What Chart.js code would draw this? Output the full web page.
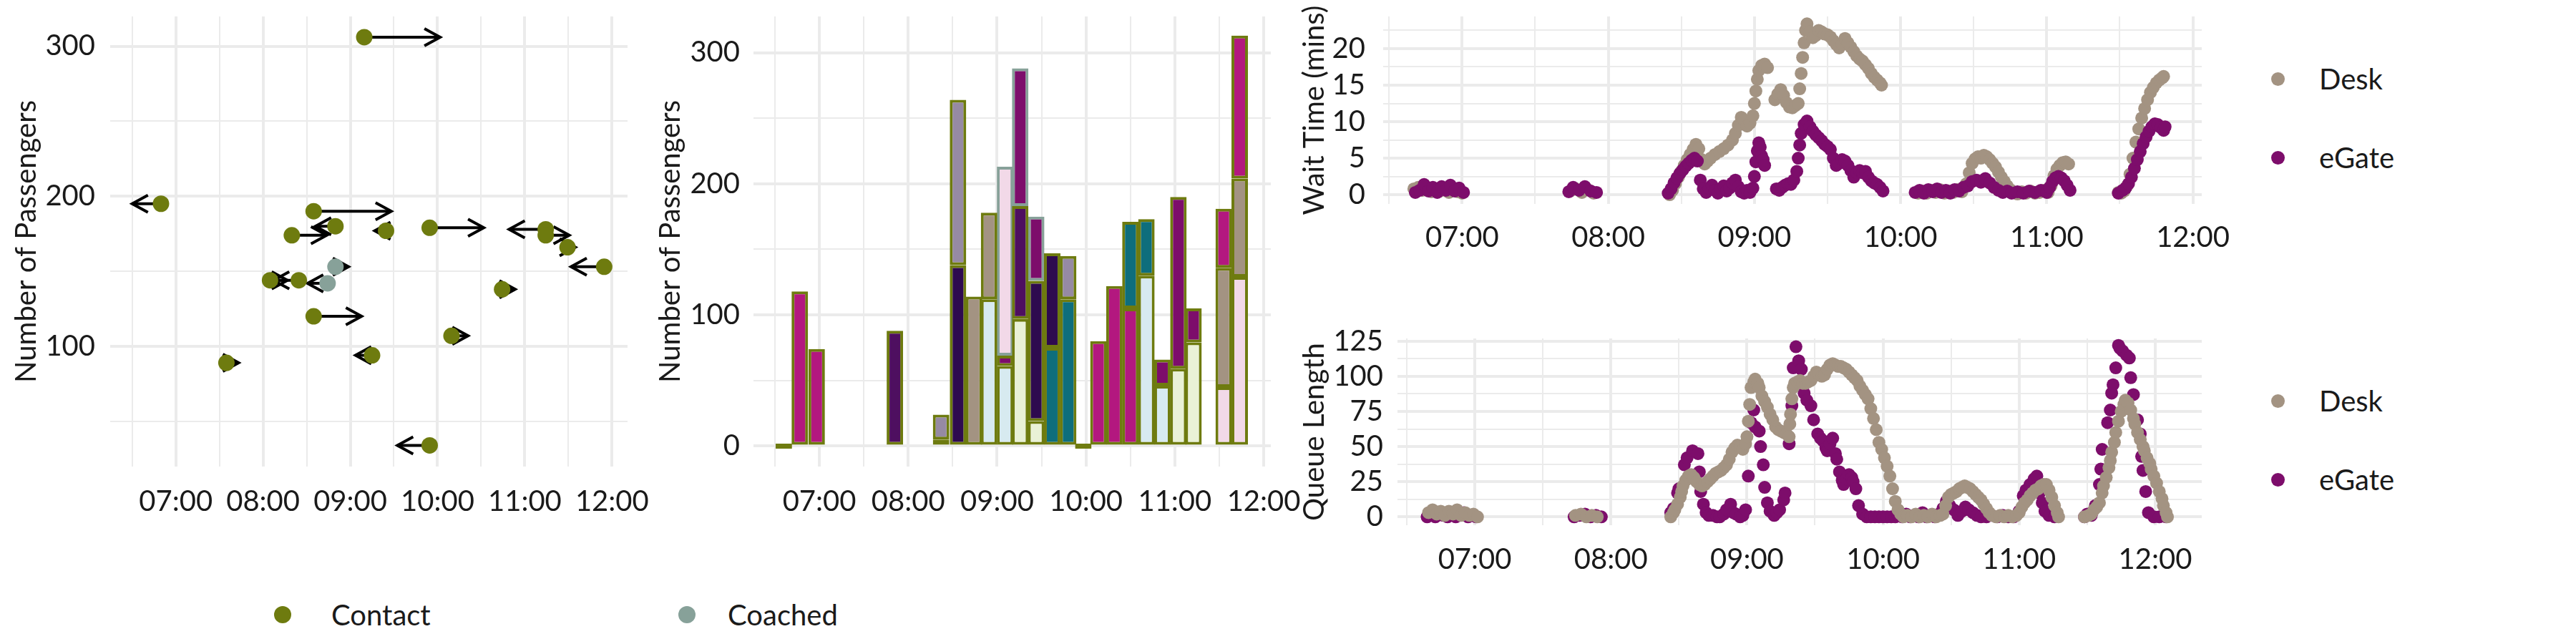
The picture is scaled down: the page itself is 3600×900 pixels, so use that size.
<!DOCTYPE html>
<html>
<head>
<meta charset="utf-8">
<script src="https://cdn.jsdelivr.net/npm/chart.js@4"></script>
<style>
  body { margin: 0; background: #fff; }
  #wrap { position: relative; width: 3600px; height: 900px; overflow: hidden; background: #fff; font-family: Lato, sans-serif; color: #1a1a1a; }
  #wrap canvas { position: absolute; }
  .dot { position: absolute; border-radius: 50%; }
  .lab { position: absolute; font-size: 40px; line-height: 40px; transform: translateY(-50%); white-space: nowrap; }
</style>
</head>
<body>
<div id="wrap">
  <canvas id="arrivalChart" width="937" height="760" style="left:0;top:0"></canvas>
  <canvas id="stackChart" width="956" height="760" style="left:880px;top:0"></canvas>
  <canvas id="waitChart" width="1337" height="380" style="left:1800px;top:0"></canvas>
  <canvas id="queueChart" width="1337" height="400" style="left:1800px;top:430px"></canvas>
</div>
<script>
// ---- data ----
const timeTicks = ['07:00', '08:00', '09:00', '10:00', '11:00', '12:00'];

// flights: scheduled time (h), passengers, and where the arrow ends (actual time)
const contactTime = [9.16, 6.83, 8.58, 8.83, 9.41, 9.91, 11.24, 11.24, 8.33, 11.49, 11.91, 8.08, 8.41, 10.74, 8.58, 10.16, 9.25, 7.58, 9.91];
const contactPax  = [306, 195, 190, 180, 177, 179, 178, 174, 174, 166, 153, 144, 144, 138, 120, 107, 94, 89, 34];
const contactTo   = [10.03, 6.50, 9.47, 8.60, 9.28, 10.53, 10.82, 11.51, 8.73, 11.58, 11.53, 8.28, 8.12, 10.89, 9.13, 10.35, 9.06, 7.72, 9.54];
const coachedTime = [8.83, 8.74];
const coachedPax  = [153, 142];
const coachedTo   = [8.98, 8.51];

// stacked arrivals per time slot (bottom / middle / top flight)
const barTime   = [6.60, 6.78, 6.97, 7.85, 8.37, 8.56, 8.74, 8.91, 9.09, 9.26, 9.44, 9.62, 9.80, 9.97, 10.14, 10.32, 10.50, 10.68, 10.86, 11.04, 11.21, 11.55, 11.73];
const barBottom = [0, 118, 74, 88, 5, 138, 114, 112, 61, 97, 19, 75, 112, 0, 80, 122, 105, 130, 46, 59, 79, 45, 129];
const barMiddle = [null, null, null, null, 19, 126, null, 66, 8, 86, 107, 72, 33, null, null, null, 66, 43, 20, 131, 26, 91, 75];
const barTop    = [null, null, null, null, null, null, null, null, 144, 105, 49, null, null, null, null, null, null, null, null, null, null, 45, 109];
const barTopType = [null, null, null, null, null, null, null, null, 'Coached', 'Coached', 'Coached', null, null, null, null, null, null, null, null, null, null, 'Contact', 'Contact'];

const queueGroups = ['Desk', 'eGate'];
const arrivalGroups = ['Contact', 'Coached'];

// wait time in minutes [time (h), mins]
const waitDesk = [
  [6.67,0.8],[6.70,1.0],[6.73,0.6],[6.76,0.9],[6.79,0.4],[6.82,0.8],[6.85,0.5],[6.88,0.9],[6.91,0.3],[6.94,0.7],[6.97,0.4],[7.00,0.2],
  [7.74,0.5],[7.78,0.8],[7.82,0.3],[7.86,0.7],[7.90,0.2],
  [8.42,0.0],[8.44,0.6],[8.46,1.5],[8.48,2.4],[8.50,3.2],[8.52,4.0],[8.54,4.8],[8.56,5.5],[8.58,6.2],[8.60,6.9],[8.62,6.3],[8.64,4.8],[8.66,4.2],[8.68,4.6],[8.70,5.0],[8.73,5.5],[8.76,5.9],[8.79,6.3],[8.82,6.8],[8.85,7.5],[8.87,8.4],[8.89,9.5],[8.91,10.6],[8.93,10.2],[8.95,9.4],[8.97,9.8],[8.99,10.8],[9.00,12.5],[9.01,14.2],[9.02,15.8],[9.03,17.0],[9.05,17.7],[9.07,17.9],[9.09,17.4],
  [9.14,13.0],[9.16,13.8],[9.18,14.4],[9.20,13.6],[9.22,12.6],[9.24,12.0],[9.26,11.9],[9.28,12.2],[9.30,12.5],[9.31,14.5],[9.32,16.6],[9.33,18.8],[9.34,20.8],[9.35,22.5],[9.36,23.4],[9.38,22.3],[9.40,21.5],[9.42,21.8],[9.44,22.5],[9.46,22.3],[9.48,22.0],[9.50,21.9],[9.52,21.6],[9.54,21.1],[9.56,20.6],[9.58,20.1],[9.60,20.6],[9.62,21.4],[9.64,20.8],[9.66,20.2],[9.68,19.6],[9.70,19.0],[9.72,18.6],[9.74,18.3],[9.76,17.8],[9.78,17.3],[9.80,16.6],[9.82,16.1],[9.84,15.7],[9.86,15.3],[9.87,15.0],
  [10.12,0.2],[10.15,0.5],[10.18,0.2],[10.21,0.6],[10.24,0.3],[10.27,0.7],[10.30,0.2],[10.33,0.5],[10.36,0.3],[10.39,0.7],[10.42,0.4],[10.45,1.5],[10.47,3.0],[10.49,4.3],[10.51,4.9],[10.53,5.2],[10.55,5.0],[10.57,5.4],[10.59,5.2],[10.61,4.8],[10.63,4.3],[10.65,3.8],[10.67,3.1],[10.69,2.4],[10.71,1.8],[10.73,1.2],[10.75,0.7],[10.77,0.3],[10.80,0.1],[10.83,0.4],[10.86,0.2],[10.89,0.5],[10.92,0.2],[10.95,0.3],[10.98,0.6],[11.01,0.3],[11.03,1.2],[11.05,2.6],[11.07,3.5],[11.09,4.0],[11.11,4.4],[11.13,4.5],[11.15,4.2],
  [11.49,0.3],[11.51,0.2],[11.53,0.5],[11.55,1.2],[11.57,2.8],[11.59,5.0],[11.61,7.2],[11.63,9.0],[11.65,10.5],[11.67,11.8],[11.69,13.0],[11.71,14.0],[11.73,14.7],[11.75,15.3],[11.77,15.7],[11.79,16.0],[11.80,16.2]
];
const waitGate = [
  [6.68,0.3],[6.71,0.6],[6.74,1.4],[6.77,0.5],[6.80,1.0],[6.83,0.3],[6.86,1.1],[6.89,0.6],[6.92,1.3],[6.95,0.5],[6.98,0.9],[7.01,0.3],
  [7.73,0.4],[7.76,1.0],[7.80,0.6],[7.84,1.1],[7.88,0.5],[7.92,0.3],
  [8.41,0.2],[8.43,0.8],[8.45,1.6],[8.47,2.3],[8.49,2.9],[8.51,3.4],[8.53,3.9],[8.55,4.3],[8.57,4.7],[8.59,5.0],[8.61,4.6],[8.63,2.0],[8.65,0.8],[8.67,0.3],[8.69,0.9],[8.71,1.3],[8.73,0.6],[8.75,0.2],[8.77,0.8],[8.79,1.2],[8.81,0.5],[8.83,0.9],[8.85,1.6],[8.87,2.0],[8.89,1.1],[8.91,0.4],[8.93,0.2],[8.95,0.6],[8.97,0.3],[8.99,0.9],[9.00,2.5],[9.01,4.5],[9.02,6.0],[9.03,7.1],[9.04,6.5],[9.05,5.3],[9.06,4.8],[9.07,4.0],
  [9.15,0.8],[9.17,0.6],[9.19,1.0],[9.21,1.3],[9.23,1.5],[9.25,1.4],[9.27,2.0],[9.29,3.2],[9.30,5.0],[9.31,6.8],[9.32,8.4],[9.34,9.6],[9.36,10.1],[9.38,9.3],[9.40,8.7],[9.42,8.2],[9.44,7.8],[9.46,7.4],[9.48,6.9],[9.50,6.6],[9.52,6.2],[9.54,5.0],[9.56,4.0],[9.58,4.3],[9.60,4.8],[9.62,4.6],[9.64,4.0],[9.66,3.3],[9.68,2.4],[9.70,3.0],[9.72,3.3],[9.74,3.0],[9.76,3.2],[9.78,2.4],[9.80,1.9],[9.82,1.6],[9.84,1.4],[9.86,1.0],[9.88,0.5],
  [10.10,0.3],[10.13,0.6],[10.16,0.2],[10.19,0.7],[10.22,0.4],[10.25,0.8],[10.28,0.3],[10.31,0.6],[10.34,0.2],[10.37,0.7],[10.40,0.5],[10.43,1.0],[10.46,1.2],[10.49,1.8],[10.52,2.0],[10.55,1.7],[10.58,2.2],[10.61,1.6],[10.64,1.0],[10.67,0.6],[10.70,0.3],[10.73,0.5],[10.76,0.2],[10.80,0.4],[10.84,0.2],[10.88,0.5],[10.92,0.3],[10.96,0.6],[11.00,0.3],[11.02,1.0],[11.04,1.8],[11.06,2.3],[11.08,2.5],[11.10,2.3],[11.12,1.9],[11.14,1.3],[11.16,0.6],
  [11.49,0.2],[11.52,0.6],[11.54,0.9],[11.56,1.5],[11.58,2.4],[11.60,3.6],[11.62,4.8],[11.64,5.9],[11.66,7.0],[11.68,7.9],[11.70,8.7],[11.72,9.3],[11.74,9.7],[11.76,9.6],[11.78,9.2],[11.80,8.8],[11.81,9.3]
];

// queue length [time (h), passengers]
const queueDesk = [
  [6.66,3],[6.69,5],[6.72,2],[6.75,4],[6.78,1],[6.81,4],[6.84,2],[6.87,5],[6.90,1],[6.93,3],[6.96,1],[6.99,2],[7.02,0],
  [7.74,1],[7.78,2],[7.82,0],[7.86,1],[7.90,0],
  [8.44,0],[8.46,3],[8.47,5],[8.49,9],[8.51,14],[8.52,18],[8.53,22],[8.55,26],[8.57,29],[8.59,30],[8.61,28],[8.63,25],[8.65,23],[8.67,22],[8.69,23],[8.71,25],[8.73,27],[8.75,29],[8.77,31],[8.79,32],[8.81,33],[8.83,35],[8.85,37],[8.87,41],[8.89,46],[8.91,49],[8.93,51],[8.95,50],[8.97,48],[8.99,52],[9.00,57],[9.01,68],[9.02,80],[9.03,92],[9.05,96],[9.06,98],[9.08,95],[9.09,92],[9.11,86],[9.13,82],[9.15,78],[9.17,73],[9.19,69],[9.21,64],[9.23,62],[9.25,61],[9.27,60],[9.29,59],[9.31,57],[9.315,66],[9.32,73],[9.33,84],[9.34,92],[9.35,95],[9.37,96],[9.39,97],[9.41,95],[9.43,95],[9.45,96],[9.47,97],[9.49,100],[9.51,103],[9.53,102],[9.55,100],[9.57,101],[9.59,105],[9.61,108],[9.63,109],[9.65,108],[9.67,107],[9.69,107],[9.71,106],[9.73,105],[9.75,103],[9.77,101],[9.79,99],[9.81,97],[9.83,93],[9.85,90],[9.87,87],[9.89,84],[9.91,77],[9.93,70],[9.95,62],[9.97,53],[9.99,48],[10.01,42],[10.03,36],[10.05,29],[10.07,20],[10.09,11],[10.11,5],[10.13,2],[10.15,0],
  [10.18,1],[10.21,0],[10.24,2],[10.27,0],[10.30,1],[10.33,0],[10.36,2],[10.39,0],[10.42,1],[10.44,2],[10.46,8],[10.48,14],[10.50,16],[10.52,17],[10.54,18],[10.56,20],[10.58,21],[10.60,22],[10.62,21],[10.64,20],[10.66,18],[10.68,16],[10.70,14],[10.72,12],[10.74,9],[10.76,6],[10.78,3],[10.80,1],[10.83,0],[10.86,1],[10.89,0],[10.92,1],[10.95,0],[10.98,1],[11.00,3],[11.02,7],[11.04,10],[11.06,12],[11.08,15],[11.10,17],[11.12,19],[11.14,20],[11.16,22],[11.18,23],[11.20,23],[11.22,19],[11.24,14],[11.26,8],[11.28,3],[11.29,0],
  [11.48,0],[11.51,1],[11.53,2],[11.55,5],[11.57,7],[11.59,10],[11.61,17],[11.62,22],[11.64,28],[11.66,35],[11.67,40],[11.68,46],[11.70,53],[11.71,60],[11.73,68],[11.75,75],[11.77,80],[11.78,83],[11.80,81],[11.82,76],[11.84,70],[11.85,66],[11.87,60],[11.89,55],[11.91,50],[11.92,47],[11.94,42],[11.96,38],[11.97,34],[11.99,29],[12.01,24],[12.03,18],[12.05,13],[12.06,8],[12.08,3],[12.09,0]
];
const queueGate = [
  [6.65,0],[6.68,2],[6.71,0],[6.74,3],[6.77,1],[6.80,0],[6.83,2],[6.86,0],[6.89,1],[6.92,3],[6.95,0],[6.98,1],[7.01,0],
  [7.73,0],[7.77,1],[7.81,2],[7.85,0],[7.89,1],[7.93,0],
  [8.44,3],[8.46,6],[8.49,17],[8.50,20],[8.54,37],[8.56,42],[8.60,47],[8.64,45],[8.65,32],[8.66,18],[8.68,9],[8.70,3],[8.72,1],[8.75,1],[8.78,0],[8.80,0],[8.83,2],[8.85,5],[8.88,9],[8.90,3],[8.92,2],[8.95,0],[8.97,1],[8.99,5],[9.01,29],[9.03,67],[9.05,76],[9.06,64],[9.09,61],[9.10,50],[9.12,37],[9.13,21],[9.15,10],[9.17,4],[9.20,1],[9.22,3],[9.24,5],[9.27,12],[9.28,17],[9.31,52],[9.33,79],[9.34,106],[9.36,121],[9.38,111],[9.40,105],[9.42,88],[9.44,83],[9.47,79],[9.49,69],[9.52,59],[9.54,56],[9.56,54],[9.58,49],[9.59,47],[9.61,52],[9.63,56],[9.65,45],[9.66,41],[9.68,32],[9.70,26],[9.71,23],[9.73,27],[9.75,30],[9.77,28],[9.78,25],[9.80,20],[9.82,8],[9.85,2],[9.88,0],[9.91,0],[9.94,0],[9.97,0],[10.00,0],[10.03,0],[10.06,0],
  [10.09,0],[10.11,1],[10.14,0],[10.17,2],[10.20,0],[10.23,1],[10.26,0],[10.29,3],[10.32,0],[10.35,1],[10.38,0],[10.41,2],[10.44,6],[10.465,11],[10.49,8],[10.52,5],[10.55,1],[10.58,4],[10.605,7],[10.63,5],[10.66,3],[10.69,1],[10.72,0],[10.76,0],[10.80,1],[10.84,0],[10.88,1],[10.92,0],[10.96,0],[11.00,4],[11.03,15],[11.05,19],[11.08,23],[11.11,27],[11.13,29],[11.15,17],[11.17,10],[11.19,4],[11.22,1],[11.26,0],
  [11.48,0],[11.50,2],[11.53,1],[11.56,8],[11.59,23],[11.60,34],[11.61,48],[11.65,67],[11.67,76],[11.68,88],[11.69,94],[11.71,106],[11.73,122],[11.74,120],[11.76,118],[11.79,115],[11.81,113],[11.82,99],[11.84,87],[11.87,69],[11.89,59],[11.90,43],[11.91,33],[11.93,18],[11.95,3],[11.99,0],[12.03,0],[12.08,0]
];

// ---- styles ----
const contactColour = '#6e7b0f';
const coachedColour = '#87a199';
const deskColour = '#a39382';
const gateColour = '#7d0d6b';
const gridColour = '#ebebeb';
const segFill = {
  magenta: '#b3187f', plum: '#7d0d6b', violet: '#4e0f60', ink: '#2e0a4f', lavender: '#968aa3',
  taupe: '#a39382', sky: '#d7eaf0', mint: '#e9f1d6', blush: '#f2d9e8', teal: '#0e6e7c'
};
const bottomFill = ['magenta', 'magenta', 'magenta', 'violet', 'violet', 'ink', 'taupe', 'sky', 'sky', 'mint', 'mint', 'teal', 'teal', 'magenta', 'magenta', 'magenta', 'magenta', 'sky', 'sky', 'mint', 'mint', 'blush', 'blush'];
const middleFill = [null, null, null, null, 'lavender', 'lavender', null, 'taupe', 'plum', 'violet', 'ink', 'ink', 'lavender', null, null, null, 'teal', 'teal', 'plum', 'plum', 'plum', 'taupe', 'taupe'];
const topFill    = [null, null, null, null, null, null, null, null, 'blush', 'plum', 'plum', null, null, null, null, null, null, null, null, null, null, 'magenta', 'magenta'];

Chart.defaults.font.family = 'Lato';
Chart.defaults.font.size = 40;
Chart.defaults.color = '#1a1a1a';

function hourLabel(v) {
  if (!Number.isInteger(v)) return '';
  return timeTicks.find(l => parseInt(l, 10) === v) || '';
}

// ticks every `step` inside the axis range (major ones get a label)
function stepTicks(step) {
  return s => {
    const t = [];
    for (let v = Math.ceil(s.min / step) * step; v <= s.max + 1e-9; v += step) {
      t.push({ value: Math.round(v * 1000) / 1000 });
    }
    s.ticks = t;
  };
}

function timeAxis(min, max, height, gap) {
  return {
    type: 'linear', min: min, max: max, offset: false,
    afterBuildTicks: stepTicks(0.5),
    afterFit: s => { s.height = height; },
    ticks: { autoSkip: false, maxRotation: 0, padding: 0,
      font: { size: 40, lineHeight: 1 }, callback: hourLabel },
    grid: { color: gridColour, offset: false, lineWidth: c => (c.tick && Number.isInteger(c.tick.value)) ? 4 : 2,
      drawTicks: true, tickLength: gap, tickColor: 'rgba(0,0,0,0)' },
    border: { display: false }
  };
}

function countAxis(min, max, step, major, width, gap, title, titlePad) {
  return {
    type: 'linear', min: min, max: max, beginAtZero: false,
    afterBuildTicks: stepTicks(step),
    afterFit: s => { s.width = width; },
    ticks: { autoSkip: false, padding: 0, font: { size: 40, lineHeight: 1 },
      callback: v => (v % major === 0 ? String(v) : '') },
    grid: { color: gridColour, lineWidth: c => (c.tick && c.tick.value % major === 0) ? 4 : 2,
      drawTicks: true, tickLength: gap, tickColor: 'rgba(0,0,0,0)' },
    border: { display: false },
    title: { display: true, text: title, font: { size: 40 }, padding: { top: titlePad, bottom: 0 } }
  };
}

const baseOptions = {
  responsive: false,
  animation: false,
  events: [],
  plugins: { legend: { display: false }, tooltip: { enabled: false } }
};

// arrow heads on the end of each flight's line
const arrowHeads = {
  id: 'arrowHeads',
  afterDatasetDraw(chart, args) {
    const ds = chart.data.datasets[args.index];
    if (!ds.isArrow) return;
    const a = args.meta.data[0], b = args.meta.data[1];
    const dir = b.x >= a.x ? 1 : -1;
    const ctx = chart.ctx;
    ctx.save();
    ctx.strokeStyle = ds.borderColor;
    ctx.lineWidth = ds.borderWidth;
    ctx.beginPath();
    ctx.moveTo(b.x - dir * 22, b.y - 12);
    ctx.lineTo(b.x, b.y);
    ctx.lineTo(b.x - dir * 22, b.y + 12);
    ctx.stroke();
    ctx.restore();
  }
};

function arrowSets(times, pax, ends) {
  return times.map((t, i) => ({
    isArrow: true, showLine: true, order: 2,
    data: [{ x: t, y: pax[i] }, { x: ends[i], y: pax[i] }],
    borderColor: '#000', borderWidth: 4, pointRadius: 0
  }));
}

new Chart(document.getElementById('arrivalChart'), {
  type: 'scatter',
  data: {
    datasets: [
      { label: arrivalGroups[0], order: 1, data: contactTime.map((t, i) => ({ x: t, y: contactPax[i] })),
        backgroundColor: contactColour, borderWidth: 0, pointRadius: 11.5 },
      { label: arrivalGroups[1], order: 1, data: coachedTime.map((t, i) => ({ x: t, y: coachedPax[i] })),
        backgroundColor: coachedColour, borderWidth: 0, pointRadius: 11.5 }
    ].concat(arrowSets(contactTime, contactPax, contactTo), arrowSets(coachedTime, coachedPax, coachedTo))
  },
  options: Object.assign({}, baseOptions, {
    layout: { padding: { top: 23, right: 60, left: 0, bottom: 0 } },
    scales: {
      x: timeAxis(6.248, 12.178, 108, 29),
      y: countAxis(19.9, 319.8, 50, 100, 154, 21, 'Number of Passengers', 13)
    }
  }),
  plugins: [arrowHeads]
});

function barLayer(values, fills, types, extra) {
  const data = [], bg = [], bc = [];
  values.forEach((v, i) => {
    if (v === null) return;
    data.push({ x: barTime[i], y: v });
    bg.push(segFill[fills[i]]);
    bc.push(types && types[i] === 'Coached' ? coachedColour : contactColour);
  });
  return Object.assign({ data: data, backgroundColor: bg, borderColor: bc, borderWidth: 4,
    borderSkipped: false, barThickness: 23, inflateAmount: 0 }, extra || {});
}

new Chart(document.getElementById('stackChart'), {
  type: 'bar',
  data: {
    datasets: [
      barLayer(barBottom, bottomFill, null, { minBarLength: 7 }),
      barLayer(barMiddle, middleFill, null),
      barLayer(barTop, topFill, barTopType)
    ]
  },
  options: Object.assign({}, baseOptions, {
    layout: { padding: { top: 23, right: 60, left: 0, bottom: 0 } },
    scales: {
      x: Object.assign(timeAxis(6.259, 12.08, 108, 29), { stacked: true }),
      y: Object.assign(countAxis(-15.6, 327.6, 50, 100, 173, 19, 'Number of Passengers', 33), { stacked: true })
    }
  })
});

function pointSet(label, rows, colour, order) {
  return { label: label, order: order, data: rows.map(r => ({ x: r[0], y: r[1] })),
    backgroundColor: colour, borderWidth: 0, pointRadius: 9 };
}

new Chart(document.getElementById('waitChart'), {
  type: 'scatter',
  data: { datasets: [pointSet(queueGroups[0], waitDesk, deskColour, 2), pointSet(queueGroups[1], waitGate, gateColour, 1)] },
  options: Object.assign({}, baseOptions, {
    layout: { padding: { top: 23, right: 60, left: 0, bottom: 0 } },
    scales: {
      x: timeAxis(6.46, 12.061, 95, 27),
      y: countAxis(-1.27, 24.41, 2.5, 5, 133, 25, 'Wait Time (mins)', 13)
    }
  })
});

new Chart(document.getElementById('queueChart'), {
  type: 'scatter',
  data: { datasets: [pointSet(queueGroups[0], queueDesk, deskColour, 1), pointSet(queueGroups[1], queueGate, gateColour, 2)] },
  options: Object.assign({}, baseOptions, {
    layout: { padding: { top: 43, right: 60, left: 0, bottom: 0 } },
    scales: {
      x: timeAxis(6.432, 12.342, 96, 28),
      y: countAxis(-5.95, 126.9, 12.5, 25, 153, 20, 'Queue Length', 13)
    }
  })
});

// ---- legends ----
const wrap = document.getElementById('wrap');
function addKey(cx, cy, r, colour, textLeft, text) {
  const d = document.createElement('div');
  d.className = 'dot';
  Object.assign(d.style, { left: (cx - r) + 'px', top: (cy - r) + 'px', width: 2 * r + 'px', height: 2 * r + 'px', background: colour });
  wrap.appendChild(d);
  const t = document.createElement('div');
  t.className = 'lab';
  Object.assign(t.style, { left: textLeft + 'px', top: cy + 'px' });
  t.textContent = text;
  wrap.appendChild(t);
}
addKey(395, 859, 12, contactColour, 463, arrivalGroups[0]);
addKey(960, 859, 12, coachedColour, 1017, arrivalGroups[1]);
[[110, 220], [560, 670]].forEach(ys => {
  addKey(3183, ys[0], 9.5, deskColour, 3241, queueGroups[0]);
  addKey(3183, ys[1], 9.5, gateColour, 3241, queueGroups[1]);
});
</script>
</body>
</html>
